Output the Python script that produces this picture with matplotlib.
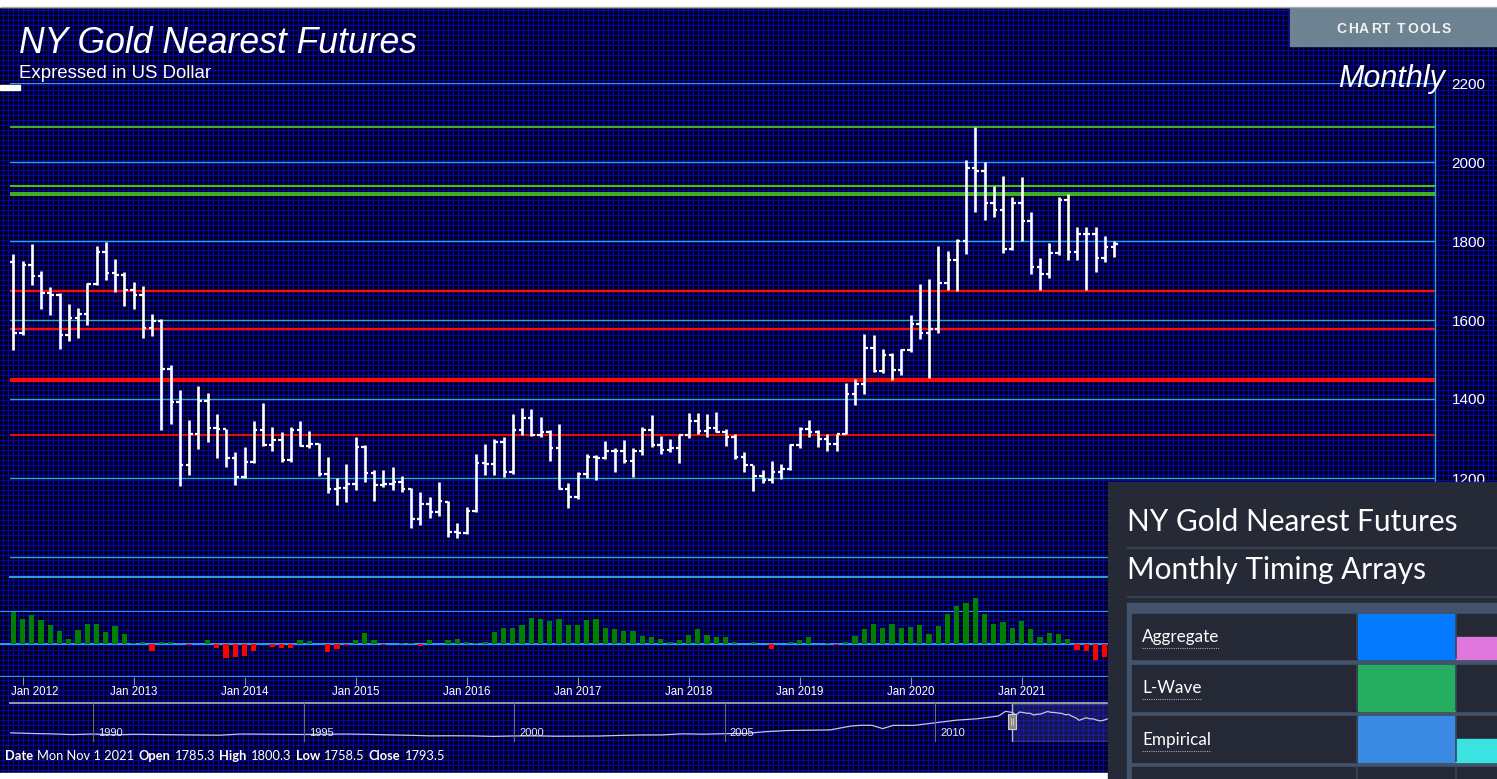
import numpy as np
import matplotlib
matplotlib.use("Agg")
import matplotlib.pyplot as plt
from matplotlib.patches import Rectangle
from matplotlib.transforms import blended_transform_factory, ScaledTranslation

W, H = 1497, 779

# Monthly OHLC, Dec 2011 .. Nov 2021 (NY gold nearest futures)
opens = [1746, 1566, 1740, 1711, 1669, 1664, 1561, 1604, 1615, 1692, 1773, 1719,
         1713, 1676, 1663, 1579, 1597, 1476, 1393, 1234, 1312, 1395, 1327, 1323,
         1250, 1202, 1240, 1322, 1284, 1296, 1246, 1322, 1282, 1287, 1210, 1171,
         1175, 1184, 1279, 1213, 1183, 1184, 1190, 1172, 1095, 1133, 1115, 1140,
         1064, 1061, 1116, 1238, 1235, 1291, 1215, 1321, 1351, 1309, 1316, 1277,
         1173, 1152, 1211, 1254, 1251, 1268, 1268, 1242, 1269, 1321, 1283, 1271,
         1275, 1309, 1345, 1318, 1327, 1316, 1305, 1253, 1233, 1206, 1196, 1215,
         1223, 1283, 1325, 1316, 1298, 1286, 1311, 1413, 1437, 1529, 1472, 1511,
         1473, 1523, 1589, 1566, 1577, 1694, 1751, 1800, 1986, 1978, 1895, 1879,
         1780, 1895, 1850, 1734, 1716, 1769, 1905, 1771, 1817, 1818, 1757, 1785.3]
highs = [1767, 1750, 1792, 1725, 1684, 1669, 1640, 1630, 1694, 1788, 1797, 1754,
         1722, 1697, 1685, 1616, 1602, 1486, 1423, 1347, 1433, 1415, 1362, 1324,
         1266, 1279, 1344, 1391, 1330, 1316, 1330, 1344, 1320, 1288, 1254, 1200,
         1235, 1303, 1284, 1220, 1220, 1227, 1204, 1174, 1165, 1153, 1191, 1141,
         1085, 1127, 1261, 1285, 1298, 1305, 1361, 1376, 1374, 1355, 1322, 1336,
         1187, 1216, 1262, 1258, 1294, 1275, 1296, 1275, 1328, 1360, 1307, 1298,
         1309, 1364, 1364, 1361, 1368, 1323, 1311, 1267, 1233, 1219, 1244, 1235,
         1286, 1330, 1348, 1322, 1311, 1311, 1441, 1450, 1564, 1562, 1526, 1517,
         1527, 1613, 1691, 1704, 1787, 1775, 1804, 2005, 2089, 2001, 1938, 1965,
         1911, 1961, 1874, 1756, 1796, 1912, 1918, 1835, 1835, 1835, 1813, 1800.3]
lows = [1524, 1562, 1689, 1627, 1613, 1527, 1547, 1555, 1587, 1689, 1701, 1672,
        1635, 1627, 1555, 1560, 1321, 1337, 1180, 1208, 1273, 1292, 1251, 1228,
        1182, 1200, 1238, 1281, 1269, 1241, 1241, 1282, 1276, 1204, 1161, 1132,
        1140, 1170, 1191, 1143, 1176, 1170, 1165, 1073, 1081, 1100, 1104, 1051,
        1047, 1058, 1115, 1208, 1208, 1203, 1209, 1310, 1307, 1305, 1243, 1171,
        1123, 1147, 1201, 1195, 1248, 1214, 1237, 1203, 1258, 1279, 1262, 1267,
        1237, 1301, 1311, 1305, 1317, 1281, 1247, 1214, 1168, 1187, 1187, 1197,
        1221, 1275, 1305, 1279, 1269, 1269, 1311, 1385, 1413, 1469, 1465, 1448,
        1461, 1520, 1551, 1453, 1567, 1676, 1673, 1767, 1874, 1853, 1860, 1769,
        1777, 1801, 1716, 1677, 1706, 1765, 1752, 1751, 1676, 1722, 1746, 1758.5]
closes = [1566, 1740, 1711, 1669, 1664, 1561, 1604, 1615, 1692, 1773, 1719, 1713,
          1676, 1663, 1579, 1597, 1476, 1393, 1234, 1312, 1395, 1327, 1323, 1250,
          1202, 1240, 1322, 1284, 1296, 1246, 1322, 1282, 1287, 1210, 1171, 1175,
          1184, 1279, 1213, 1183, 1184, 1190, 1172, 1095, 1133, 1115, 1142, 1064,
          1061, 1116, 1238, 1235, 1291, 1215, 1321, 1351, 1309, 1316, 1277, 1173,
          1152, 1211, 1254, 1251, 1268, 1268, 1242, 1269, 1321, 1283, 1271, 1275,
          1309, 1345, 1318, 1327, 1316, 1305, 1253, 1233, 1206, 1196, 1215, 1223,
          1283, 1325, 1316, 1298, 1286, 1311, 1413, 1437, 1529, 1472, 1511, 1473,
          1523, 1589, 1566, 1577, 1694, 1751, 1800, 1986, 1978, 1895, 1879, 1780,
          1895, 1850, 1734, 1716, 1769, 1905, 1771, 1817, 1818, 1757, 1784, 1793.5]

# oscillator histogram under the price pane
momentum = [49, 38, 44, 36, 29, 19, 8, 21, 30, 30, 18, 27,
            15, 2, 3.5, -10, 3.5, 3.5, 0.5, -1.5, 0.5, 6.5, -6, -21,
            -19, -18, -11, 0, -5, -6, -6, 6.5, 5, 0, -12.5, -8,
            -1.5, 6.5, 16.5, 6, -1.5, 0, 2, 2, -3, 6, 0, 6,
            7.5, 3, 2, 3.5, 18, 24, 24, 29, 39, 38, 35, 38,
            29, 29, 36, 38, 24, 22, 19, 19, 12, 10, 8, 3.6,
            6, 14, 22, 14, 10, 10, 3.6, 0, 3.6, 0, -8, 0,
            3.6, 6, 10, 0, 1.5, -1.5, 3.6, 12, 22, 31, 24, 30,
            24, 26, 29, 15, 27, 45, 58, 62, 69, 45, 30, 33,
            24, 35, 22, 10, 16.5, 15, 8, -9, -11, -24, -20, -12]

date_years = [2012, 2013, 2014, 2015, 2016, 2017, 2018, 2019, 2020, 2021]
grid_levels = [1000, 1200, 1400, 1600, 1800, 2000, 2200]
red_levels = [1673, 1577, 1449, 1310]
green_levels = [2089, 1939, 1921, 1916]

# navigator (full history) before the visible window
nav_years = [1988.0, 1988.5, 1989.0, 1989.5, 1990.0, 1990.5, 1991.0, 1991.5,
             1992.0, 1992.5, 1993.0, 1993.5, 1994.0, 1994.5, 1995.0, 1995.5,
             1996.0, 1996.5, 1997.0, 1997.5, 1998.0, 1998.5, 1999.0, 1999.5,
             2000.0, 2000.5, 2001.0, 2001.5, 2002.0, 2002.5, 2003.0, 2003.5,
             2004.0, 2004.5, 2005.0, 2005.5, 2006.0, 2006.5, 2007.0, 2007.5,
             2008.0, 2008.25, 2008.5, 2008.75, 2009.0, 2009.5, 2010.0, 2010.5,
             2011.0, 2011.5, 2011.67, 2011.83]
nav_prices = [477, 437, 410, 368, 401, 352, 386, 367, 354, 343, 329, 401,
              390, 385, 375, 387, 400, 382, 350, 326, 289, 296, 288, 256,
              283, 288, 266, 270, 279, 316, 343, 346, 413, 392, 422, 437,
              549, 615, 632, 650, 889, 935, 928, 730, 928, 927, 1083, 1244,
              1331, 1500, 1781, 1715]
nav_label_years = [1990, 1995, 2000, 2005, 2010]

timing_rows = ["Aggregate", "L-Wave", "Empirical"]
timing_colors = ["#047bfc", "#25ad60", "#3a89e3"]
timing_side = ["#df77df", None, "#3ae2e2"]

BG = "#00001c"
GRIDC = "#0404c8"
CYAN = "#2aa6dc"
SANS = "Liberation Sans"
UI = "Lato"

fig = plt.figure(figsize=(W / 100, H / 100), dpi=100, facecolor=BG)


def box(x0, y0, x1, y1):
    return [x0 / W, 1 - y1 / H, (x1 - x0) / W, (y1 - y0) / H]


def overlay(z):
    a = fig.add_axes([0, 0, 1, 1], zorder=z)
    a.set_xlim(0, W)
    a.set_ylim(H, 0)
    a.axis("off")
    return a


def month_at(px):
    return (px - 13.3) / 9.25


# background with the fine blue grid
bg = overlay(0)
bg.add_patch(Rectangle((0, 0), W, H, color=BG))
bg.vlines(np.arange(2.5, W, 5), 0, H, color=GRIDC, lw=0.62)
bg.hlines(np.arange(9.5, H, 5), 0, W, color=GRIDC, lw=0.62)

idx = np.arange(len(closes))

# price pane
ax = fig.add_axes(box(10, 83, 1435, 577), zorder=2)
ax.set_facecolor("none")
ax.set_xlim(month_at(10), month_at(1435))
ax.set_ylim(2200 - (577 - 83) / 0.395, 2200)
for s in ["left", "top", "bottom"]:
    ax.spines[s].set_visible(False)
ax.spines["right"].set_color(CYAN)
ax.spines["right"].set_linewidth(1.0)
ax.set_xticks([])
ax.yaxis.tick_right()
ax.set_yticks(grid_levels)
ax.set_yticklabels([str(v) for v in grid_levels])
ax.tick_params(axis="y", length=0, pad=12, labelcolor="white", labelsize=11)
for t in ax.get_yticklabels():
    t.set_fontfamily(SANS)

for v in grid_levels:
    ax.axhline(v, color=CYAN, lw=1.0, zorder=1)
ax.axhline(2200 - (577 - 83) / 0.395, color=CYAN, lw=1.4, zorder=1, clip_on=False)
for v, lw in zip(red_levels, [1.7, 1.7, 3.0, 1.3]):
    ax.axhline(v, color="#ff0a0a", lw=lw, zorder=2)
for v, lw in zip(green_levels, [1.3, 1.5, 1.3, 1.3]):
    ax.axhline(v, color="#44c41e", lw=lw, zorder=2)

ax.vlines(idx, lows, highs, color="white", lw=1.9, zorder=4)
ax.hlines(opens, idx - 0.38, idx, color="white", lw=1.6, zorder=4)
ax.hlines(closes, idx, idx + 0.38, color="white", lw=1.6, zorder=4)

# oscillator pane
axh = fig.add_axes(box(0, 611, 1435, 677), zorder=2)
axh.set_facecolor("none")
axh.set_xlim(month_at(0), month_at(1435))
axh.set_ylim(-50, 50)
for s in axh.spines.values():
    s.set_visible(False)
axh.set_yticks([])
for v in [-50, 0, 50]:
    axh.axhline(v, color=CYAN, lw=1.4, zorder=1)
mcol = ["#008000" if v >= 0 else "#ff0000" for v in momentum]
axh.bar(idx, momentum, width=0.58, color=mcol, zorder=3, clip_on=False)
axh.set_xticks([(y - 2012) * 12 + 1 for y in date_years])
axh.set_xticklabels([f"Jan {y}" for y in date_years])
axh.tick_params(axis="x", direction="out", length=5.8, width=0.8, color="#8a90a8",
                labelcolor="white", labelsize=8.3, pad=1)
for t in axh.get_xticklabels():
    t.set_fontfamily(SANS)
# first label is pushed right so it stays inside the chart
first = axh.get_xticklabels()[0]
first.set_horizontalalignment("left")
first.set_transform(first.get_transform() + ScaledTranslation(-12 / 100, 0, fig.dpi_scale_trans))

# navigator
axn = fig.add_axes(box(10, 703, 1497, 742), zorder=2)
axn.set_facecolor("none")
x0n = 1990 + (10 - 93.3) / 42.1
x1n = 1990 + (1497 - 93.3) / 42.1
axn.set_xlim(x0n, x1n)
axn.set_ylim(-85, 2290)
for s in axn.spines.values():
    s.set_visible(False)
axn.set_xticks([])
axn.set_yticks([])
axn.axhline(2290, color="#9c9c9c", lw=1.4, clip_on=False)
win_years = [2011 + (11 + i) / 12 for i in idx]
axn.plot(nav_years + win_years, nav_prices + closes, color="#c4c8e0", lw=0.9)
trn = blended_transform_factory(axn.transData, axn.transAxes)
for y in nav_label_years:
    axn.axvline(y, color="#6a6a78", lw=0.8)
    axn.text(y + 0.12, 0.23, str(y), transform=trn, color="#e8e8f0", fontsize=8,
             family=SANS, va="center", ha="left")
sel0 = 2011.82
axn.add_patch(Rectangle((sel0, -85), x1n - sel0, 2375, facecolor="#4a4ab0", alpha=0.3,
                        edgecolor="none"))
axn.add_patch(Rectangle((sel0, -85), x1n - sel0, 2375, facecolor="none",
                        edgecolor="#b4b4b4", lw=1.0))

# overlays: titles, buttons and the timing panel
top = overlay(10)
ren = fig.canvas.get_renderer()
top.add_patch(Rectangle((0, 0), W, 6.5, color="white"))
top.hlines(6.8, 0, W, color="#a8a8a8", lw=1.0)
top.add_patch(Rectangle((0, 773), 1108, 6, color="white"))
top.add_patch(Rectangle((0, 85), 20, 5, color="white"))
top.add_patch(Rectangle((1008, 714), 8, 15, facecolor="#8a8a8a", edgecolor="#cfcfcf", lw=0.8))
top.vlines([1011, 1013], 718, 725, color="#d8d8d8", lw=0.6)

top.text(19, 53.3, "NY Gold Nearest Futures", color="white", fontsize=25.6, style="italic",
         family=SANS, va="baseline", ha="left")
top.text(19, 78, "Expressed in US Dollar", color="white", fontsize=13.4, family=SANS,
         va="baseline", ha="left")
top.text(1445, 87, "Monthly", color="white", fontsize=22, style="italic", family=SANS,
         va="baseline", ha="right")

top.add_patch(Rectangle((1290, 7.7), W - 1290, 38.3, color="#6d8392"))
# letter-spaced button caption
label = "CHART TOOLS"
pieces = [top.text(0, 32.5, ch, color="#f2f2f2", fontsize=10, weight="bold", family=SANS,
                   ha="left", va="baseline") for ch in label]
widths = [p.get_window_extent(renderer=ren).width if ch != " " else 3.5
          for p, ch in zip(pieces, label)]
track = 1.5
total = sum(widths) + track * (len(label) - 1)
xp = 1393.5 - total / 2
for p, wch in zip(pieces, widths):
    p.set_x(xp)
    xp += wch + track

# info line
parts = [("Date", True), ("Mon Nov 1 2021", False),
         ("Open", True), (f"{opens[-1]:.1f}", False),
         ("High", True), (f"{highs[-1]:.1f}", False),
         ("Low", True), (f"{lows[-1]:.1f}", False),
         ("Close", True), (f"{closes[-1]:.1f}", False)]
xp = 5
for s, b in parts:
    t = top.text(xp, 760, s, color="white", fontsize=9.3, family=UI,
                 weight="bold" if b else "normal", va="baseline", ha="left")
    xp += t.get_window_extent(renderer=ren).width + 4.2

# timing arrays panel
top.add_patch(Rectangle((1107.5, 481.5), W - 1107.5, H - 481.5, color="#252a36"))
top.text(1127, 530.7, "NY Gold Nearest Futures", color="white", fontsize=21.4,
         family=UI, va="baseline", ha="left")
top.hlines(548.3, 1127, W, color="#3a4251", lw=1.6)
top.text(1127, 579, "Monthly Timing Arrays", color="white", fontsize=21.4,
         family=UI, va="baseline", ha="left")
top.hlines(596.7, 1127, W, color="#3a4251", lw=1.6)
top.add_patch(Rectangle((1126.7, 602.7), W - 1126.7, H - 602.7, color="#43536c"))
row_top = [614, 665.3, 716.3, 767.3]
row_h = 45.3
base_off = [28.3, 28.0, 28.7]
under_off = [34.3, 34.0, 34.4]
for k, y0 in enumerate(row_top):
    top.add_patch(Rectangle((1131.7, y0), W - 1131.7, row_h, color="#242935"))
    top.vlines([1356.9, 1455.6], y0, y0 + row_h, color="#3b4456", lw=1.2)
for k, name in enumerate(timing_rows):
    y0 = row_top[k]
    top.add_patch(Rectangle((1357.5, y0), 97.5, row_h, color=timing_colors[k]))
    if timing_side[k]:
        top.add_patch(Rectangle((1456.2, y0 + 22.7), W - 1456.2, row_h - 22.7,
                                color=timing_side[k]))
    t = top.text(1142, y0 + base_off[k], name, color="white", fontsize=12.3, family=UI,
                 va="baseline", ha="left")
    wd = t.get_window_extent(renderer=ren).width
    top.hlines(y0 + under_off[k], 1142, 1142 + wd, color="#a0a6b2", lw=0.8,
               linestyles=(0, (1, 1)))

fig.savefig("out.png", dpi=100, facecolor=BG)
